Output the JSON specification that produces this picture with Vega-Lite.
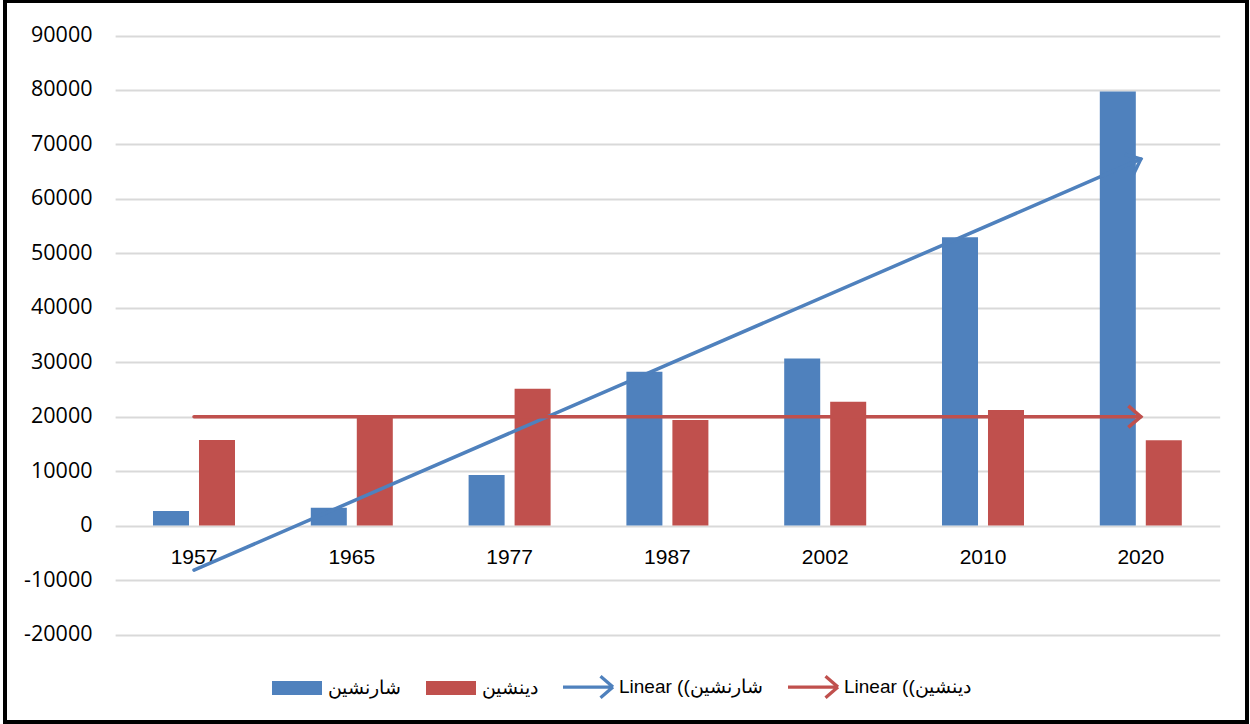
{
  "$schema": "https://vega.github.io/schema/vega-lite/v6.json",
  "width": 1242,
  "height": 721,
  "autosize": {"type": "none"},
  "padding": {"left": 5, "top": 1, "right": 3, "bottom": 2},
  "background": "#ffffff",
  "config": {
    "view": {"stroke": "#000000", "strokeWidth": 4},
    "axis": {"grid": false, "domain": false, "ticks": false, "title": null, "tickSize": 0},
    "legend": {
      "orient": "none",
      "legendX": 267,
      "legendY": 661,
      "direction": "horizontal",
      "title": null,
      "symbolSize": 2500,
      "symbolStrokeWidth": 0,
      "symbolOpacity": 1,
      "labelFont": "'Liberation Sans Narrow', 'Liberation Sans', sans-serif",
      "labelFontSize": 19,
      "labelColor": "#000000",
      "labelOffset": 6,
      "labelLimit": 400,
      "columnPadding": 25
    }
  },
  "datasets": {
    "bars": [
      {"year": "1957", "series": "شارنشین", "value": 2660},
      {"year": "1957", "series": "دینشین", "value": 15700},
      {"year": "1965", "series": "شارنشین", "value": 3270},
      {"year": "1965", "series": "دینشین", "value": 19930},
      {"year": "1977", "series": "شارنشین", "value": 9280},
      {"year": "1977", "series": "دینشین", "value": 25130},
      {"year": "1987", "series": "شارنشین", "value": 28250},
      {"year": "1987", "series": "دینشین", "value": 19380},
      {"year": "2002", "series": "شارنشین", "value": 30700},
      {"year": "2002", "series": "دینشین", "value": 22740},
      {"year": "2010", "series": "شارنشین", "value": 52940},
      {"year": "2010", "series": "دینشین", "value": 21220},
      {"year": "2020", "series": "شارنشین", "value": 79700},
      {"year": "2020", "series": "دینشین", "value": 15650}
    ],
    "trend": [
      {"year": "1957", "series": "Linear ((شارنشین", "value": -8180},
      {"year": "2020", "series": "Linear ((شارنشین", "value": 67290},
      {"year": "1957", "series": "Linear ((دینشین", "value": 20000},
      {"year": "2020", "series": "Linear ((دینشین", "value": 20000}
    ]
  },
  "layer": [
    {
      "data": {"name": "bars"},
      "mark": {"type": "bar"},
      "encoding": {
        "x": {
          "field": "year", "type": "nominal",
          "scale": {"domain": ["1957", "1965", "1977", "1987", "2002", "2010", "2020"], "range": [110.1, 1214.7], "paddingInner": 0, "paddingOuter": 0},
          "axis": {"orient": "bottom", "offset": -196.4, "labelPadding": 21, "labelFont": "Liberation Sans", "labelFontSize": 21, "labelColor": "#000000", "labelAngle": 0, "title": null}
        },
        "xOffset": {
          "field": "series", "type": "nominal",
          "scale": {"domain": ["شارنشین", "دینشین"], "paddingInner": 0.217, "paddingOuter": 0.824}
        },
        "y": {
          "field": "value", "type": "quantitative",
          "scale": {"domain": [-20000, 90000], "range": [633.5, 34.5], "nice": false, "zero": false},
          "axis": {"orient": "left", "offset": -110, "values": [-20000, -10000, 0, 10000, 20000, 30000, 40000, 50000, 60000, 70000, 80000, 90000], "labelExpr": "datum.value < 0 ? '-' + abs(datum.value) : '' + datum.value", "grid": true, "gridColor": "#D9D9D9", "gridWidth": 2, "labelPadding": 23, "labelFont": "Open Sans", "labelFontSize": 21.5, "labelColor": "#000000", "title": null}
        },
        "color": {
          "field": "series", "type": "nominal",
          "scale": {"domain": ["شارنشین", "دینشین", "Linear ((شارنشین", "Linear ((دینشین"], "range": ["#4F81BD", "#C0504D", "#4F81BD", "#C0504D"]},
          "legend": {}
        }
      }
    },
    {
      "data": {"name": "trend"},
      "mark": {"type": "line", "strokeWidth": 3.5, "strokeCap": "round"},
      "encoding": {
        "x": {"field": "year", "type": "nominal"},
        "y": {"field": "value", "type": "quantitative"},
        "stroke": {"field": "series", "type": "nominal", "scale": {"domain": ["Linear ((شارنشین", "Linear ((دینشین"], "range": ["#4F81BD", "#C0504D"]}, "legend": null}
      }
    },
    {
      "data": {"name": "trend"},
      "transform": [{"filter": "datum.year == '2020' && datum.value > 40000"}],
      "mark": {"type": "point", "shape": "M-0.5,-0.43L0,0L-0.5,0.43", "size": 2500, "filled": false, "strokeWidth": 3.5, "color": "#4F81BD", "angle": 336.54, "opacity": 1},
      "encoding": {
        "x": {"field": "year", "type": "nominal"},
        "y": {"field": "value", "type": "quantitative"}
      }
    },
    {
      "data": {"name": "trend"},
      "transform": [{"filter": "datum.year == '2020' && datum.value < 40000"}],
      "mark": {"type": "point", "shape": "M-0.5,-0.43L0,0L-0.5,0.43", "size": 2500, "filled": false, "strokeWidth": 3.5, "color": "#C0504D", "opacity": 1},
      "encoding": {
        "x": {"field": "year", "type": "nominal"},
        "y": {"field": "value", "type": "quantitative"}
      }
    },
    {
      "data": {"name": "trend"},
      "mark": {"type": "point", "filled": true, "opacity": 0},
      "encoding": {
        "x": {"field": "year", "type": "nominal"},
        "y": {"field": "value", "type": "quantitative"},
        "color": {"field": "series", "type": "nominal"},
        "shape": {
          "field": "series", "type": "nominal",
          "scale": {
            "domain": ["شارنشین", "دینشین", "Linear ((شارنشین", "Linear ((دینشین"],
            "range": [
              "M-1,-0.28H1V0.28H-1Z",
              "M-1,-0.28H1V0.28H-1Z",
              "M-1,-0.065H0.96V0.065H-1Z M0.4576,-0.3807L0.5424,-0.4793L1.0424,-0.0493L0.9576,0.0493Z M0.9576,-0.0493L1.0424,0.0493L0.5424,0.4793L0.4576,0.3807Z",
              "M-1,-0.065H0.96V0.065H-1Z M0.4576,-0.3807L0.5424,-0.4793L1.0424,-0.0493L0.9576,0.0493Z M0.9576,-0.0493L1.0424,0.0493L0.5424,0.4793L0.4576,0.3807Z"
            ]
          }
        }
      }
    }
  ]
}
